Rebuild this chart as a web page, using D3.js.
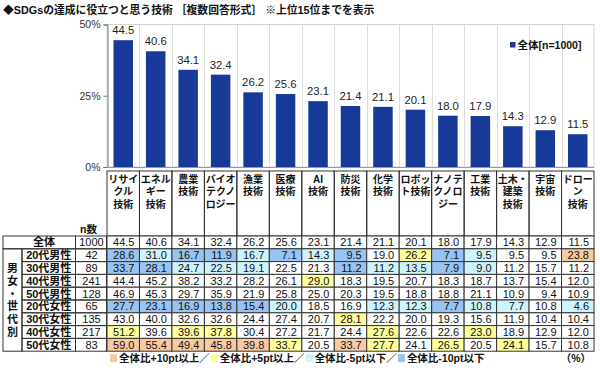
<!DOCTYPE html>
<html><head><meta charset="utf-8">
<script src="https://cdn.jsdelivr.net/npm/d3@7"></script>
<style>body{margin:0;background:#fff} svg{display:block}</style>
</head><body><svg id="c" width="600" height="368"></svg>
<script>
// ---------- DATA ----------
const categories = ["リサイクル技術","エネルギー技術","農業技術","バイオテクノロジー","漁業技術","医療技術","AI技術","防災技術","化学技術","ロボット技術","ナノテクノロジー","工業技術","土木・建築技術","宇宙技術","ドローン技術"];
const categoryLabelLines = [["リサイ","クル","技術"],["エネル","ギー","技術"],["農業","技術"],["バイオ","テクノ","ロジー"],["漁業","技術"],["医療","技術"],["AI","技術"],["防災","技術"],["化学","技術"],["ロボッ","ト技術"],["ナノテ","クノロ","ジー"],["工業","技術"],["土木・","建築","技術"],["宇宙","技術"],["ドロー","ン","技術"]];
const overall = [44.5,40.6,34.1,32.4,26.2,25.6,23.1,21.4,21.1,20.1,18.0,17.9,14.3,12.9,11.5];
const overallLabel = "全体";
const overallN = 1000;
const groups = ["20代男性","30代男性","40代男性","50代男性","20代女性","30代女性","40代女性","50代女性"];
const groupN = [42,89,241,128,65,135,217,83];
const m20 = [28.6,31.0,16.7,11.9,16.7,7.1,14.3,9.5,19.0,26.2,7.1,9.5,9.5,9.5,23.8];
const m30 = [33.7,28.1,24.7,22.5,19.1,22.5,21.3,11.2,11.2,13.5,7.9,9.0,11.2,15.7,11.2];
const m40 = [44.4,45.2,38.2,33.2,28.2,26.1,29.0,18.3,19.5,20.7,18.3,18.7,13.7,15.4,12.0];
const m50 = [46.9,45.3,29.7,35.9,21.9,25.8,25.0,20.3,19.5,18.8,18.8,21.1,10.9,9.4,10.9];
const f20 = [27.7,23.1,16.9,13.8,15.4,20.0,18.5,16.9,12.3,12.3,7.7,10.8,7.7,10.8,4.6];
const f30 = [43.0,40.0,32.6,32.6,24.4,27.4,20.7,28.1,22.2,20.0,19.3,15.6,11.9,10.4,10.4];
const f40 = [51.2,39.6,39.6,37.8,30.4,27.2,21.7,24.4,27.6,22.6,22.6,23.0,18.9,12.9,12.0];
const f50 = [59.0,55.4,49.4,45.8,39.8,33.7,20.5,33.7,27.7,24.1,26.5,20.5,24.1,15.7,10.8];
const groupValues = [m20,m30,m40,m50,f20,f30,f40,f50];
const yTicks = [0,25,50];
const title = "◆SDGsの達成に役立つと思う技術 ［複数回答形式］ ※上位15位までを表示";
const legendText = "全体[n=1000]";
const sideLabel = ["男","女","・","世","代","別"];
const highlightLabels = ["全体比+10pt以上／","全体比+5pt以上／","全体比-5pt以下／","全体比-10pt以下"];
const unitLabel = "（%）";

// ---------- STYLE ----------
const FONT = "'Liberation Sans','Noto Sans CJK JP',sans-serif";
const BAR = "#173a99";
const C_HI10 = "#f9c9a2", C_HI5 = "#ffff9c", C_LO5 = "#cdf3fd", C_LO10 = "#99c3f0";
const hlColors = [C_HI10, C_HI5, C_LO5, C_LO10];
function cellColor(v, base){
  const d = Math.round((v-base)*10)/10;
  if (d >= 10) return C_HI10;
  if (d >= 5) return C_HI5;
  if (d <= -10) return C_LO10;
  if (d <= -5) return C_LO5;
  return null;
}

const svg = d3.select("#c").style("font-family", FONT);

// title
svg.append("text").attr("x",3).attr("y",14).attr("font-size",10.8).attr("font-weight","bold")
  .attr("fill","#111").text(title);

// ---------- CHART ----------
const plotL = 107, plotR = 594, plotT = 24.5, plotB = 167;
const x = d3.scaleBand().domain(categories).range([plotL, plotR]).paddingInner(0);
const y = d3.scaleLinear().domain([0,50]).range([plotB, plotT]);

// plot border
svg.append("rect").attr("x",plotL).attr("y",plotT).attr("width",plotR-plotL).attr("height",plotB-plotT)
  .attr("fill","none").attr("stroke","#d4d4d4");
// vertical gridlines between categories
svg.append("g").selectAll("line").data(categories.slice(1)).join("line")
  .attr("x1",d=>Math.round(x(d))+0.5).attr("x2",d=>Math.round(x(d))+0.5)
  .attr("y1",plotT).attr("y2",plotB).attr("stroke","#dcdcdc");

// bars
const bw = x.bandwidth()*0.6;
svg.append("g").selectAll("rect").data(overall).join("rect")
  .attr("x",(d,i)=>x(categories[i]) + (x.bandwidth()-bw)/2)
  .attr("y",d=>y(d)).attr("width",bw).attr("height",d=>plotB-y(d))
  .attr("fill",BAR);
// value labels
svg.append("g").selectAll("text").data(overall).join("text")
  .attr("x",(d,i)=>x(categories[i]) + x.bandwidth()/2)
  .attr("y",d=>y(d)-6).attr("text-anchor","middle").attr("font-size",11.3).attr("fill","#222")
  .text(d=>d.toFixed(1));

// y axis
const ax = svg.append("g").attr("transform",`translate(${plotL+0.5},0)`)
  .call(d3.axisLeft(y).tickValues(yTicks).tickFormat(d=>d+"%").tickSize(4).tickPadding(3));
ax.select(".domain").attr("stroke","#777");
ax.selectAll(".tick line").attr("stroke","#777");
ax.selectAll(".tick text").attr("font-size",10.5).attr("fill","#333").attr("font-family",FONT);
// x baseline
svg.append("line").attr("x1",plotL).attr("x2",plotR).attr("y1",plotB+0.5).attr("y2",plotB+0.5).attr("stroke","#999");

// legend
svg.append("rect").attr("x",510).attr("y",42).attr("width",5.5).attr("height",5.5).attr("fill",BAR);
svg.append("text").attr("x",517.5).attr("y",49).attr("font-size",10.5).attr("font-weight","bold").attr("fill","#111").text(legendText);

// ---------- TABLE ----------
const LINE = "#333";
const hdrT = 171, tblT = 236, rowH = 12.8;
const xOuter = 3, xSide = 22, xLabel = 75.5, xN = plotL - 0.5;
const nRows = 1 + groups.length;
const tb = svg.append("g");

// header cells
categories.forEach((c,i)=>{
  const x0 = x(c), w = x.bandwidth();
  tb.append("rect").attr("x",x0).attr("y",hdrT).attr("width",w).attr("height",tblT-hdrT)
    .attr("fill","none").attr("stroke",LINE).attr("stroke-width",1);
  categoryLabelLines[i].forEach((ln,k)=>{
    tb.append("text").attr("x",x0+w/2).attr("y",hdrT+11.5+k*12.5).attr("text-anchor","middle")
      .attr("font-size",10).attr("font-weight","bold").attr("fill","#111").text(ln);
  });
});
tb.append("text").attr("x",80).attr("y",233).attr("font-size",10.5).attr("font-weight","bold").attr("fill","#111").text("n数");

// rows data
const rows = [{label:overallLabel, n:overallN, vals:overall, base:true}]
  .concat(groups.map((g,i)=>({label:g, n:groupN[i], vals:groupValues[i], base:false})));

rows.forEach((r,ri)=>{
  const yt = tblT + ri*rowH;
  const yc = yt + rowH/2;
  r.vals.forEach((v,ci)=>{
    const x0 = x(categories[ci]), w = x.bandwidth();
    const col = r.base ? null : cellColor(v, overall[ci]);
    tb.append("rect").attr("x",x0).attr("y",yt).attr("width",w).attr("height",rowH)
      .attr("fill", col || "#fff").attr("stroke",LINE).attr("stroke-width",1);
    tb.append("text").attr("x",x0+w-5).attr("y",yc).attr("dy","0.36em").attr("text-anchor","end")
      .attr("font-size",11).attr("fill","#111").text(v.toFixed(1));
  });
  tb.append("rect").attr("x",xLabel).attr("y",yt).attr("width",xN-xLabel).attr("height",rowH)
    .attr("fill","none").attr("stroke",LINE);
  tb.append("text").attr("x",(xLabel+xN)/2+0.5).attr("y",yc).attr("dy","0.36em").attr("text-anchor","middle")
    .attr("font-size",11).attr("fill","#111").text(r.n);
  if (r.base){
    tb.append("rect").attr("x",xOuter).attr("y",yt).attr("width",xLabel-xOuter).attr("height",rowH)
      .attr("fill","none").attr("stroke",LINE);
    tb.append("text").attr("x",44).attr("y",yc).attr("dy","0.36em").attr("text-anchor","middle")
      .attr("font-size",11).attr("font-weight","bold").attr("fill","#111").text(r.label);
  } else {
    tb.append("rect").attr("x",xSide).attr("y",yt).attr("width",xLabel-xSide).attr("height",rowH)
      .attr("fill","none").attr("stroke",LINE);
    tb.append("text").attr("x",(xSide+xLabel)/2).attr("y",yc).attr("dy","0.36em").attr("text-anchor","middle")
      .attr("font-size",11).attr("font-weight","bold").attr("fill","#111").text(r.label);
  }
});
// side label column
tb.append("rect").attr("x",xOuter).attr("y",tblT+rowH).attr("width",xSide-xOuter).attr("height",groups.length*rowH)
  .attr("fill","none").attr("stroke",LINE);
sideLabel.forEach((ch,k)=>{
  tb.append("text").attr("x",(xOuter+xSide)/2).attr("y",tblT+(k+2)*rowH+rowH/2).attr("dy","0.36em")
    .attr("text-anchor","middle").attr("font-size",11).attr("font-weight","bold").attr("fill","#111").text(ch);
});

// ---------- BOTTOM LEGEND ----------
let lx = 110;
const ly = 358;
highlightLabels.forEach((t,i)=>{
  svg.append("rect").attr("x",lx).attr("y",ly-4).attr("width",7).attr("height",8).attr("fill",hlColors[i]);
  const tx = svg.append("text").attr("x",lx+9).attr("y",ly).attr("dy","0.36em").attr("font-size",10.5)
    .attr("font-weight","bold").attr("fill","#111").text(t);
  lx += 9 + tx.node().getComputedTextLength() + 1;
});
svg.append("text").attr("x",591).attr("y",ly).attr("dy","0.36em").attr("text-anchor","end").attr("font-size",10.5)
  .attr("font-weight","bold").attr("fill","#111").text(unitLabel);
</script></body></html>
